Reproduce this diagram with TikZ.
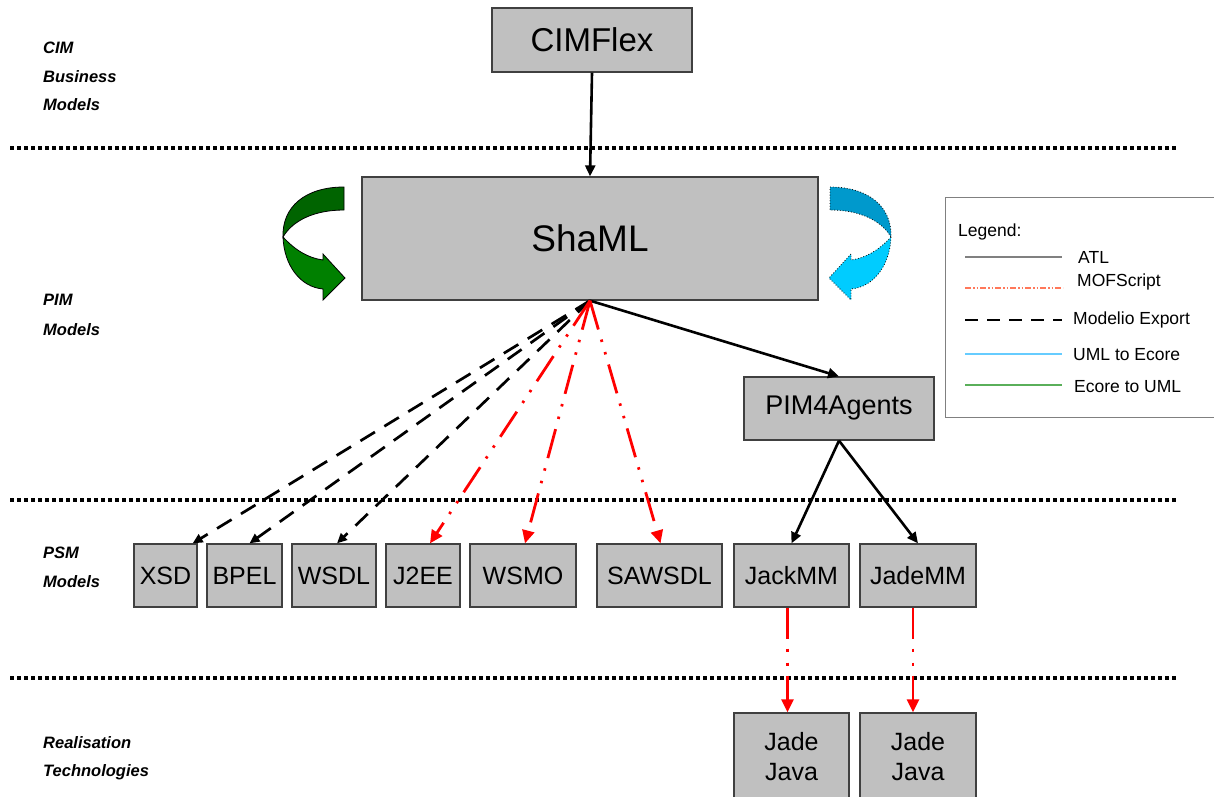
\documentclass[tikz,border=0pt]{standalone}
\usepackage{fontspec}
\setmainfont{Liberation Sans}
\usetikzlibrary{arrows.meta}
\definecolor{boxgray}{RGB}{192,192,192}
\definecolor{boxedge}{RGB}{64,64,64}
\definecolor{gdark}{RGB}{0,100,0}
\definecolor{glight}{RGB}{0,128,0}
\definecolor{cdark}{RGB}{0,153,204}
\definecolor{clight}{RGB}{0,204,255}
\definecolor{legred}{RGB}{255,120,90}
\definecolor{legblue}{RGB}{102,204,255}
\definecolor{leggreen}{RGB}{90,175,90}
\tikzset{
  box/.style={draw=boxedge, fill=boxgray, line width=1.3pt, inner sep=0pt, align=center},
  sep/.style={line width=4pt, dash pattern=on 4pt off 3pt},
  lbl/.style={anchor=west, inner sep=0pt, font=\fontsize{16.5}{18}\selectfont\bfseries\itshape},
  atl/.style={line width=2.6pt, -{Triangle[length=11pt,width=10pt]}},
  modelio/.style={line width=2.7pt, dash pattern=on 17pt off 11pt, -{Triangle[length=10pt,width=9pt]}},
  mof/.style={red, line width=2.8pt, dash pattern=on 30pt off 10.5pt on 2.5pt off 10.5pt on 2.5pt off 10.5pt, -{Triangle[length=13pt,width=12pt]}},
  legtxt/.style={anchor=west, inner sep=0pt, font=\fontsize{17.5}{20}\selectfont},
}
\begin{document}
\begin{tikzpicture}[x=1pt,y=-1pt]
\useasboundingbox (0,0) rectangle (1214,796);

% separators
\draw[sep] (10,148) -- (1178,148);
\draw[sep] (10,500) -- (1178,500);
\draw[sep] (10,678) -- (1178,678);

% left labels
\node[lbl] (l1) at (43,48) {CIM};
\node[lbl] (l2) at (43,77) {Business};
\node[lbl] (l3) at (43,105) {Models};
\node[lbl] (l4) at (43,300) {PIM};
\node[lbl] (l5) at (43,330) {Models};
\node[lbl] (l6) at (43,553) {PSM};
\node[lbl] (l7) at (43,582) {Models};
\node[lbl] (l8) at (43,743) {Realisation};
\node[lbl] (l9) at (43,772) {Technologies};

% nodes
\node[box, minimum width=200pt, minimum height=64pt, font=\fontsize{33}{36}\selectfont] (cim) at (592,40) {CIMFlex};
\node[box, minimum width=456pt, minimum height=123pt, font=\fontsize{37}{40}\selectfont] (sha) at (590,238.5) {ShaML};
\node[box, minimum width=190pt, minimum height=63pt, font=\fontsize{27}{30}\selectfont] (pim) at (839,408.5) {PIM4Agents};

\tikzset{psm/.style={box, minimum height=63pt, font=\fontsize{25}{28}\selectfont}}
\node[psm, minimum width=63pt] (xsd) at (165.5,575.5) {XSD};
\node[psm, minimum width=75pt] (bpel) at (244.5,575.5) {BPEL};
\node[psm, minimum width=84pt] (wsdl) at (334,575.5) {WSDL};
\node[psm, minimum width=74pt] (j2ee) at (423,575.5) {J2EE};
\node[psm, minimum width=106pt] (wsmo) at (523,575.5) {WSMO};
\node[psm, minimum width=125pt] (saw) at (659.5,575.5) {SAWSDL};
\node[psm, minimum width=115pt] (jack) at (791.5,575.5) {JackMM};
\node[psm, minimum width=116pt] (jade) at (918,575.5) {JadeMM};

\node[box, minimum width=115pt, minimum height=88pt, font=\fontsize{25}{30}\selectfont] (jj1) at (791.5,757) {Jade\\Java};
\node[box, minimum width=116pt, minimum height=88pt, font=\fontsize{25}{30}\selectfont] (jj2) at (918,757) {Jade\\Java};

% connectors
\draw[atl] (cim.south) -- (sha.north);
\draw[atl] (sha.south) -- (pim.north);
\draw[atl] (pim.south) -- (jack.north);
\draw[atl] (pim.south) -- (jade.north);

\draw[modelio] (sha.south) -- ([xshift=-5pt]xsd.north east);
\draw[modelio] (sha.south) -- ([xshift=5pt]bpel.north);
\draw[modelio] (sha.south) -- ([xshift=3pt]wsdl.north);

\draw[mof] (sha.south) -- ([xshift=7pt]j2ee.north);
\draw[mof] (sha.south) -- ([xshift=2pt]wsmo.north);
\draw[mof] (sha.south) -- ([xshift=1pt]saw.north);

\draw[mof, dash pattern=on 31pt off 10pt on 3pt off 11pt on 3pt off 10pt] ([xshift=-4pt]jack.south) -- ([xshift=-4pt]jj1.north);
\draw[mof, dash pattern=on 31pt off 10pt on 3pt off 11pt on 3pt off 10pt] ([xshift=-5pt]jade.south) -- ([xshift=-5pt]jj2.north);

% curled arrows
\begin{scope}[line width=0.8pt]
\filldraw[draw=black, fill=gdark] (344,187) .. controls (305,187) and (282,207) .. (283,237) .. controls (293,220) and (315,210) .. (344,210) -- cycle;
\filldraw[draw=black, fill=glight] (283,237) .. controls (295,250) and (308,258) .. (323,260) -- (323,254) -- (345,278) -- (323,300) -- (323,289) .. controls (300,287) and (284,265) .. (283,237) -- cycle;
\end{scope}
\begin{scope}[xshift=1174pt, xscale=-1, line width=0.8pt]
\filldraw[draw=black, dotted, fill=cdark] (344,187) .. controls (305,187) and (282,207) .. (283,237) .. controls (293,220) and (315,210) .. (344,210) -- cycle;
\filldraw[draw=black, dotted, fill=clight] (283,237) .. controls (295,250) and (308,258) .. (323,260) -- (323,254) -- (345,278) -- (323,300) -- (323,289) .. controls (300,287) and (284,265) .. (283,237) -- cycle;
\end{scope}

% legend
\node[draw=gray, line width=1pt, minimum width=269pt, minimum height=220pt, inner sep=0pt] (leg) at (1079.5,307) {};
\node[legtxt] (lt) at (958,232) {Legend:};
\draw[gray, line width=1.5pt] (965,257) -- (1062,257);
\node[legtxt] (t1) at (1078,257) {ATL};
\draw[legred, line width=1.5pt, dash pattern=on 6pt off 2pt on 1.5pt off 2pt on 1.5pt off 2pt] (965,288) -- (1063,288);
\node[legtxt] (t2) at (1077,282) {MOFScript};
\draw[black, line width=2.6pt, dash pattern=on 13pt off 9pt] (965,320) -- (1062,320);
\node[legtxt] (t3) at (1073,320) {Modelio Export};
\draw[legblue, line width=1.5pt] (965,354) -- (1062,354);
\node[legtxt] (t4) at (1073,355) {UML to Ecore};
\draw[leggreen, line width=1.5pt] (965,385) -- (1062,385);
\node[legtxt] (t5) at (1074,387) {Ecore to UML};
\end{tikzpicture}
\end{document}
